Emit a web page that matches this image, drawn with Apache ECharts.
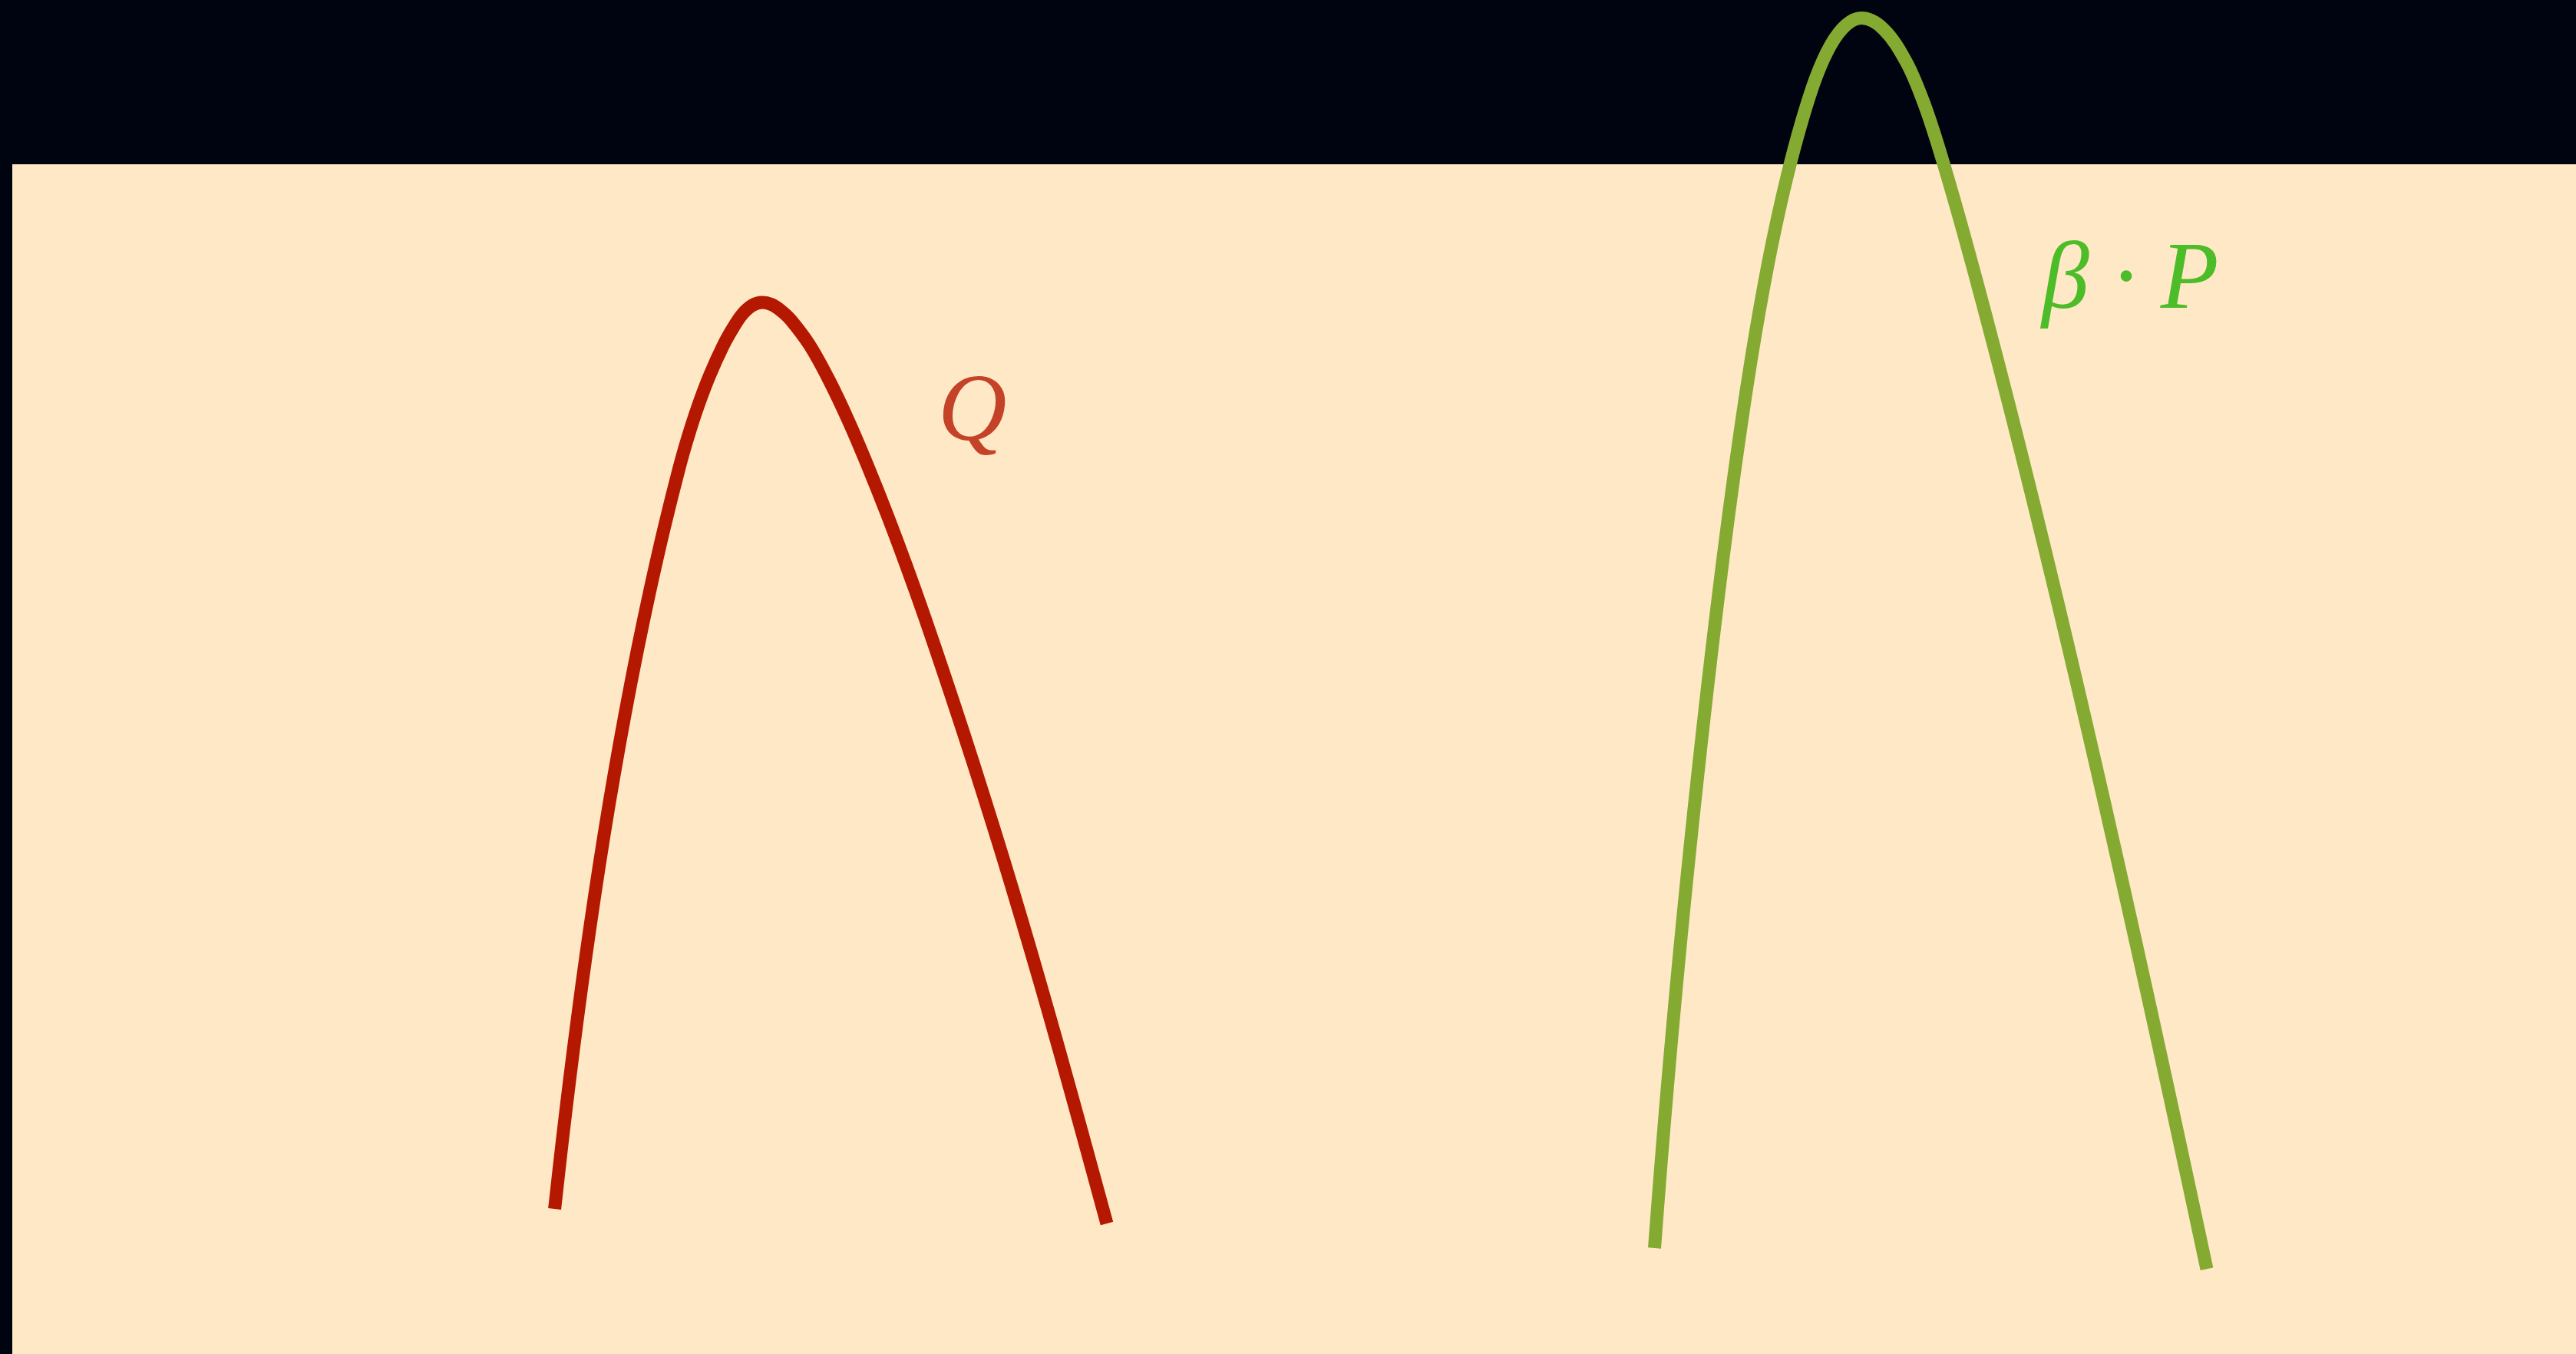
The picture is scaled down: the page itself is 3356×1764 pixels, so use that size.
<!DOCTYPE html>
<html>
<head>
<meta charset="utf-8">
<script src="https://cdn.jsdelivr.net/npm/echarts@6/dist/echarts.min.js"></script>
<style>
  html, body { margin: 0; padding: 0; background: #000411; }
  #chart { width: 3356px; height: 1764px; }
</style>
</head>
<body>
<div id="chart"></div>
<script>
// curve samples, [x, y] in chart units
const qPoints = [
  [70.66, 18.9], [71.59, 27.2], [72.62, 35.8], [73.64, 43.8], [74.71, 51.7],
  [75.87, 59.7], [77.11, 67.7], [78.45, 75.7], [79.87, 83.6], [81.42, 91.6],
  [83.08, 99.5], [84.9, 107.5], [86.9, 115.5], [88.04, 119.5], [89.34, 123.5],
  [90.86, 127.5], [92.63, 131.4], [93.9, 133.68], [95.1, 135.45], [96.4, 136.61],
  [97.7, 137.0], [98.9, 136.74], [100.1, 135.97], [101.4, 134.75], [103.9, 131.4],
  [106.4, 126.9], [108.9, 121.65], [111.4, 115.8], [113.9, 109.55], [116.4, 102.9],
  [118.9, 95.9], [121.4, 88.55], [123.9, 81.0], [126.4, 73.2], [128.9, 65.2],
  [131.4, 56.9], [133.9, 48.35], [136.4, 39.55], [139.5, 28.35], [142.6, 17.0]
]

const betaPPoints = [
  [213.95, 13.8], [214.6, 22.3], [215.29, 30.8], [216.02, 39.3], [216.79, 47.8],
  [217.64, 56.7], [218.54, 65.6], [219.49, 74.6], [220.8, 86.4], [222.2, 98.2],
  [223.62, 109.4], [225.19, 120.7], [226.5, 129.3], [227.95, 137.8], [229.46, 145.6],
  [231.22, 153.4], [233.08, 160.4], [235.0, 166.35], [236.9, 170.53], [238.9, 173.13],
  [240.9, 174.04], [243.8, 172.59], [246.76, 168.3], [249.0, 163.09], [251.2, 156.43],
  [254.1, 146.43], [257.1, 135.33], [260.3, 122.98], [263.4, 110.61], [266.4, 98.25],
  [269.4, 85.55], [272.3, 72.98], [275.2, 60.16], [278.2, 46.66], [281.1, 33.41],
  [283.5, 22.3], [285.9, 11.07]
]

// label names and anchor points
const labelNames = ['Q', 'β · P']
const labelCoords = [[120.6, 122.4], [264.4, 139.6]]

const chart = echarts.init(document.getElementById('chart'))

function curve(name, data, color) {
  return {
    name: name,
    type: 'line',
    data: data,
    smooth: 0.35,
    showSymbol: false,
    clip: false,
    silent: true,
    lineStyle: { color: color, width: 17, cap: 'butt', join: 'round' },
    itemStyle: { color: color }
  }
}

function label(text, coord, color) {
  return {
    type: 'scatter',
    data: [coord],
    symbolSize: 0,
    silent: true,
    clip: false,
    label: {
      show: true,
      position: 'inside',
      align: 'left',
      verticalAlign: 'middle',
      formatter: text,
      color: color,
      fontFamily: '"Liberation Serif", "Times New Roman", serif',
      fontStyle: 'italic',
      fontSize: 124
    }
  }
}

chart.setOption({
  backgroundColor: '#000411',
  animation: false,
  grid: {
    left: 16, top: 214, right: 0, bottom: 0,
    show: true,
    backgroundColor: '#FFE8C5',
    borderWidth: 0
  },
  xAxis: { type: 'value', min: 0, max: 334, show: false },
  yAxis: { type: 'value', min: 0, max: 155, show: false },
  series: [
    curve('Q', qPoints, '#B51800'),
    curve('β · P', betaPPoints, '#84AA32'),
    label(labelNames[0], labelCoords[0], '#B51800'),
    label(labelNames[1], labelCoords[1], '#1FB000')
  ]
})
</script>
</body>
</html>
